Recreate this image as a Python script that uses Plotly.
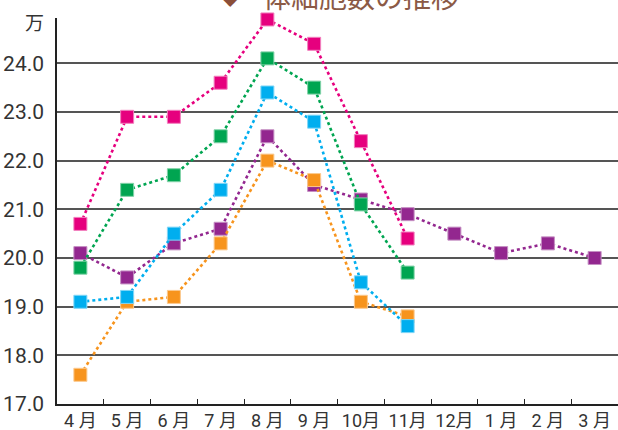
import plotly.graph_objects as go

months = ["4 月", "5 月", "6 月", "7 月", "8 月", "9 月", "10月", "11月", "12月", "1 月", "2 月", "3 月"]

purple = [20.1, 19.6, 20.3, 20.6, 22.5, 21.5, 21.2, 20.9, 20.5, 20.1, 20.3, 20.0]
orange = [17.6, 19.1, 19.2, 20.3, 22.0, 21.6, 19.1, 18.8]
blue = [19.1, 19.2, 20.5, 21.4, 23.4, 22.8, 19.5, 18.6]
green = [19.8, 21.4, 21.7, 22.5, 24.1, 23.5, 21.1, 19.7]
pink = [20.7, 22.9, 22.9, 23.6, 24.9, 24.4, 22.4, 20.4]

series = [
    (purple, "#93278F", "#C58FC3"),
    (orange, "#F7941D", "#FBC98E"),
    (blue, "#00AEEF", "#80D6F7"),
    (green, "#00A551", "#80D2A8"),
    (pink, "#E6007E", "#F280BE"),
]

y_ticks = [17, 18, 19, 20, 21, 22, 23, 24]
y_labels = ["17.0", "18.0", "19.0", "20.0", "21.0", "22.0", "23.0", "24.0"]

fig = go.Figure()
for vals, col, edge in series:
    fig.add_trace(go.Scatter(
        x=months[:len(vals)], y=vals, mode="lines+markers",
        line=dict(color=col, width=2.6, dash="dot"),
        marker=dict(symbol="square", size=13, color=col, line=dict(color=edge, width=1)),
        cliponaxis=False, showlegend=False, hoverinfo="skip",
    ))

tickfam = "Roboto, Noto Sans CJK JP, sans-serif"

fig.update_layout(
    width=618, height=430,
    margin=dict(l=57, r=0, t=18, b=26),
    paper_bgcolor="white", plot_bgcolor="white",
    xaxis=dict(
        type="category", categoryorder="array", categoryarray=months,
        range=[-0.5, 11.5], showgrid=False, zeroline=False,
        showline=True, linecolor="#222", linewidth=1.5,
        ticks="inside", tickson="boundaries", ticklen=5, tickcolor="#222", tickwidth=1.2,
        tickangle=0, automargin=False,
        tickfont=dict(family=tickfam, size=18, color="#333"),
    ),
    yaxis=dict(
        range=[17, 24.93], tickvals=y_ticks, ticktext=y_labels,
        showgrid=True, gridcolor="#555", gridwidth=1.5, zeroline=False,
        showline=True, linecolor="#222", linewidth=1.5, ticks="",
        ticklabelstandoff=7, automargin=False,
        tickfont=dict(family=tickfam, size=21, color="#333"),
    ),
    annotations=[
        dict(text="万", xref="paper", yref="paper", x=-0.04, y=0.99,
             showarrow=False, xanchor="center", yanchor="middle",
             font=dict(family="Noto Sans CJK JP", size=19, color="#333")),
        dict(text="◆", xref="paper", yref="paper", x=0.310, y=1.057,
             showarrow=False, xanchor="center", yanchor="middle",
             font=dict(family="DejaVu Sans", size=24, color="#8B4F39")),
        dict(text="体細胞数の推移", xref="paper", yref="paper", x=0.541, y=1.057,
             showarrow=False, xanchor="center", yanchor="middle",
             font=dict(family="Noto Sans CJK JP", size=28, color="#8B5A46")),
    ],
)

fig.write_html("out.html")
